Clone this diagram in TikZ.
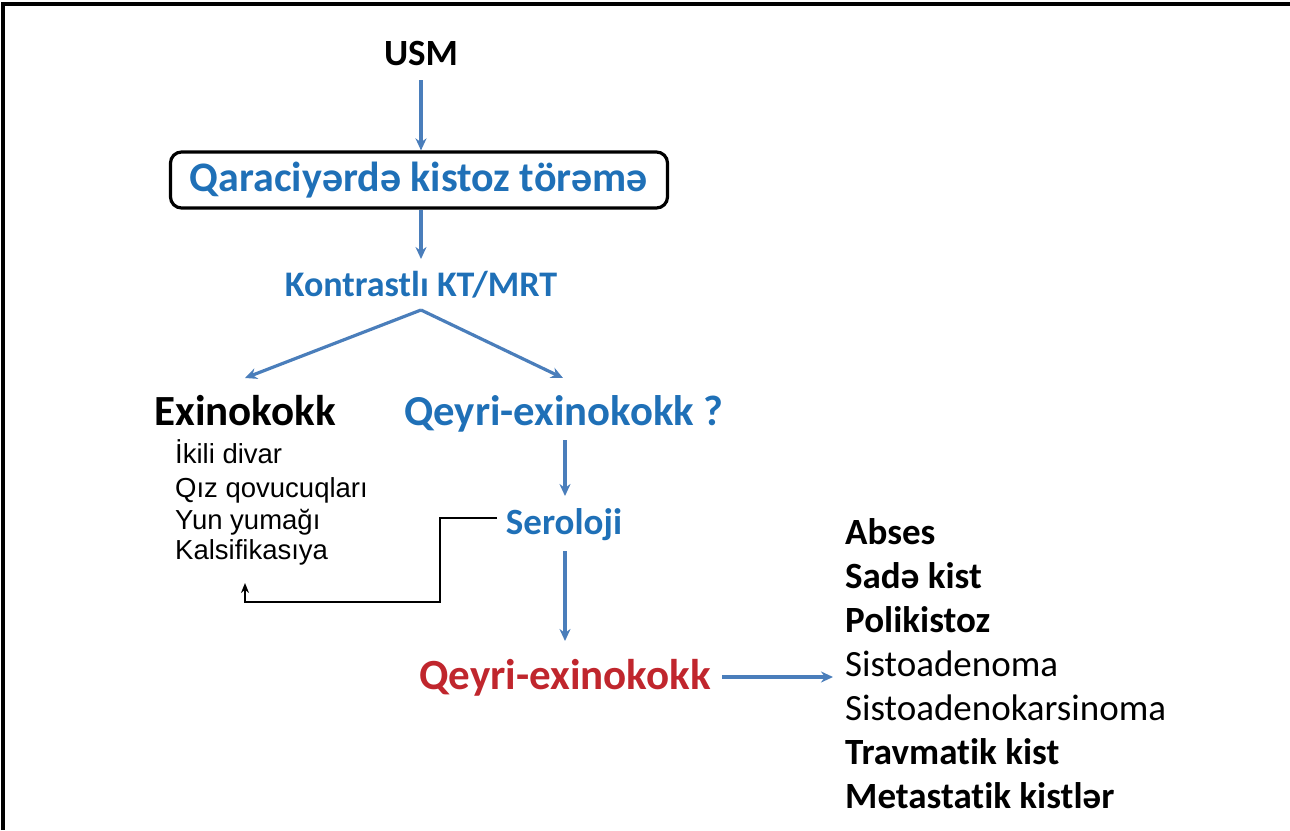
\documentclass[tikz,border=0pt]{standalone}
\usepackage{fontspec}
\setmainfont{Carlito}[Ligatures=NoCommon]
\newfontfamily\arialfont{Liberation Sans}
\usepackage{xcolor}
\usetikzlibrary{arrows.meta}

\definecolor{txtblue}{RGB}{31,112,183}
\definecolor{arrblue}{RGB}{74,126,187}
\definecolor{txtred}{RGB}{192,38,45}

\newcommand{\fsz}[1]{\fontsize{#1}{#1}\selectfont}

\tikzset{
  flowarrow/.style={-{Stealth[length=12pt,width=11pt]}, line width=3.2pt, arrblue},
  backline/.style={-{Stealth[length=10pt,width=8pt]}, line width=2.4pt, black},
  sublist/.style={font=\arialfont\fsz{27.5}, anchor=base west, inner sep=0pt},
  dxlist/.style={font=\fsz{37}, anchor=base west, inner sep=0pt},
  dxbold/.style={dxlist, font=\bfseries\fsz{37}}
}

\begin{document}
\begin{tikzpicture}[x=1pt, y=-1pt, >=Stealth]
  \useasboundingbox (0,0) rectangle (1290,830);

  % Draw the frame (top and left edges only)
  \draw[line width=3.4pt] (3,830) -- (3,4) -- (1290,4);

  % Draw the top of the chart
  \node[font=\bfseries\fsz{37}, anchor=base, inner sep=0pt] (usm) at (421,65) {USM};
  \node[font=\bfseries\fsz{42}, txtblue, draw=black, line width=3.2pt, rounded corners=11pt,
        inner sep=0pt, minimum width=497pt, minimum height=56pt] (lesion) at (419,180) {Qaraciyərdə kistoz törəmə};
  \node[font=\bfseries\fsz{36}, txtblue, anchor=base, inner sep=0pt] (kontrast) at (421,296) {Kontrastlı KT/MRT};

  \coordinate (usmfoot) at (421,80);
  \draw[flowarrow] (usmfoot) -- (usmfoot |- lesion.north);
  \draw[flowarrow] (lesion.south -| usmfoot) -- (421,259);

  % Draw the two branches
  \node[font=\bfseries\fsz{43}, anchor=base, inner sep=0pt] (exino) at (245,425) {Exinokokk};
  \node[font=\bfseries\fsz{42.7}, txtblue, anchor=base, inner sep=0pt] (qeyri) at (564,425) {Qeyri-exinokokk ?};

  \coordinate (fork) at (421,310);
  \draw[flowarrow] (fork) -- (245,378);
  \draw[flowarrow] (fork) -- (563,378);

  % Signs of the echinococcal cyst
  \node[sublist] (sign1) at (175,463) {İkili divar};
  \node[sublist] (sign2) at (175,497) {Qız qovucuqları};
  \node[sublist] (sign3) at (175,529) {Yun yumağı};
  \node[sublist] (sign4) at (175,559) {Kalsifikasıya};

  % Serology step
  \node[font=\bfseries\fsz{37}, txtblue, anchor=base, inner sep=0pt] (serol) at (564,534) {Seroloji};
  \draw[flowarrow] (565,440) -- (565,496);
  \draw[flowarrow] (565,551) -- (565,641);

  % Positive serology goes back to Exinokokk
  \coordinate (backend) at (245,583);
  \draw[backline] (497,518) -- (440,518) -- (440,602) -- (245,602) -- (backend);

  % Final result
  \node[font=\bfseries\fsz{43}, txtred, anchor=base, inner sep=0pt] (final) at (565,689) {Qeyri-exinokokk};
  \draw[flowarrow] (722,677) -- (833,677);

  % Differential diagnosis
  \node[dxbold] (dx1) at (845,544) {Abses};
  \node[dxbold] (dx2) at (845,588) {Sadə kist};
  \node[dxbold] (dx3) at (845,632) {Polikistoz};
  \node[dxlist] (dx4) at (845,676) {Sistoadenoma};
  \node[dxlist] (dx5) at (845,720) {Sistoadenokarsinoma};
  \node[dxbold] (dx6) at (845,764) {Travmatik kist};
  \node[dxbold] (dx7) at (845,808) {Metastatik kistlər};
\end{tikzpicture}
\end{document}
